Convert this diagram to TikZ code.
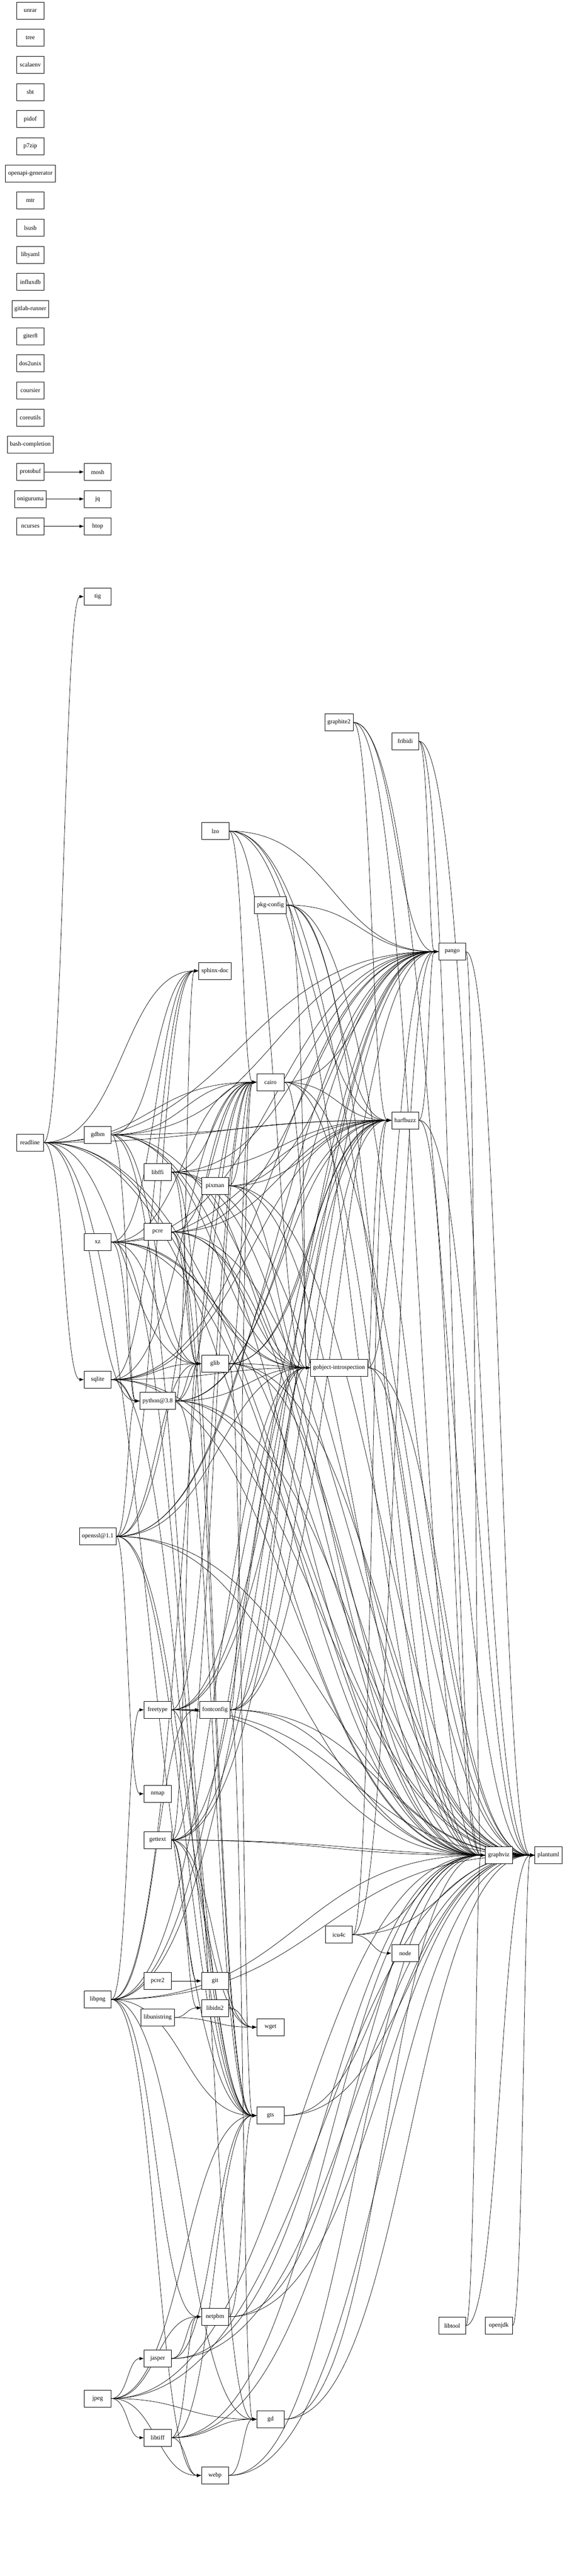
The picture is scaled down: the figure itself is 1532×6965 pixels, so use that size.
\documentclass[tikz,border=0pt]{standalone}
\usepackage{fontspec}
\setmainfont{Liberation Serif}
\usetikzlibrary{calc,arrows.meta,backgrounds}
\begin{document}
\begin{tikzpicture}[x=1pt,y=-1pt,
  box/.style={draw,fill=white,line width=1pt,minimum width=73pt,minimum height=46pt,inner xsep=7pt,font=\fontsize{16.5}{19}\selectfont},
  e/.style={line width=1pt,-{Latex[length=12pt,width=9pt]},
    to path={let \p1=(\tikztostart), \p2=(\tikztotarget) in
      (\tikztostart) .. controls ({0.5*\x1+0.5*\x2},\y1) and ({0.5*\x1+0.5*\x2},\y2) .. (\tikztotarget) \tikztonodes}}]
\useasboundingbox (0,0) rectangle (1532,6965);
% isolated list
\foreach \n/\y in {unrar/29,tree/102,scalaenv/175,sbt/249,pidof/322,p7zip/396,openapi-generator/469,mtr/542,lsusb/616,libyaml/689,influxdb/762,gitlab-runner/836,giter8/909,dos2unix/982,coursier/1056,coreutils/1129,bash-completion/1202}
  \node[box] (\n) at (82,\y) {\n};
\node[box] (protobuf) at (82,1276) {protobuf};
\node[box] (oniguruma) at (82,1349) {oniguruma};
\node[box] (ncurses) at (82,1423) {ncurses};
\node[box] (mosh) at (264,1276) {mosh};
\node[box] (jq) at (264,1349) {jq};
\node[box] (htop) at (264,1423) {htop};
% main graph nodes
\node[box] (tig) at (264,1613) {tig};
\node[box] (graphite2) at (916,1953) {graphite2};
\node[box] (fribidi) at (1095,2004) {fribidi};
\node[box] (lzo) at (582,2247) {lzo};
\node[box] (pkgc) at (731,2447) {pkg-config};
\node[box] (pango) at (1222,2573) {pango};
\node[box] (sphinx) at (581,2625) {sphinx-doc};
\node[box] (cairo) at (731,2926) {cairo};
\node[box] (harfbuzz) at (1095,3029) {harfbuzz};
\node[box] (readline) at (81,3089) {readline};
\node[box] (gdbm) at (264,3068) {gdbm};
\node[box] (libffi) at (426,3169) {libffi};
\node[box] (pixman) at (581,3206) {pixman};
\node[box] (pcre) at (426,3331) {pcre};
\node[box] (xz) at (264,3358) {xz};
\node[box] (glib) at (581,3687) {glib};
\node[box] (gi) at (916,3698) {gobject-introspection};
\node[box] (sqlite) at (264,3730) {sqlite};
\node[box] (py38) at (426,3788) {python@3.8};
\node[box] (ssl) at (264,4154) {openssl@1.1};
\node[box] (freetype) at (426,4623) {freetype};
\node[box] (fontconfig) at (581,4623) {fontconfig};
\node[box] (nmap) at (426,4850) {nmap};
\node[box] (gettext) at (426,4975) {gettext};
\node[box] (graphviz) at (1348,5016) {graphviz};
\node[box] (plantuml) at (1482,5016) {plantuml};
\node[box] (icu4c) at (916,5231) {icu4c};
\node[box] (node) at (1095,5281) {node};
\node[box] (pcre2) at (426,5356) {pcre2};
\node[box] (git) at (581,5356) {git};
\node[box] (libpng) at (264,5406) {libpng};
\node[box] (libidn2) at (581,5429) {libidn2};
\node[box] (libunistring) at (426,5455) {libunistring};
\node[box] (wget) at (731,5481) {wget};
\node[box] (gts) at (731,5720) {gts};
\node[box] (netpbm) at (581,6264) {netpbm};
\node[box] (libtool) at (1222,6288) {libtool};
\node[box] (openjdk) at (1348,6288) {openjdk};
\node[box] (jasper) at (426,6377) {jasper};
\node[box] (jpeg) at (264,6485) {jpeg};
\node[box] (gd) at (731,6541) {gd};
\node[box] (libtiff) at (426,6591) {libtiff};
\node[box] (webp) at (581,6693) {webp};
% dependency sets
\def\Rpy{gdbm,ssl,readline,sqlite,xz}
\def\Rglib{gettext,libffi,pcre,py38,gdbm,ssl,readline,sqlite,xz}
\def\Rcairo{fontconfig,freetype,libpng,lzo,pixman,glib,gettext,libffi,pcre,py38,gdbm,ssl,readline,sqlite,xz}
\def\RGI{cairo,pkgc,fontconfig,freetype,libpng,lzo,pixman,glib,gettext,libffi,pcre,py38,gdbm,ssl,readline,sqlite,xz}
\def\Rhb{gi,graphite2,icu4c,cairo,pkgc,fontconfig,freetype,libpng,lzo,pixman,glib,gettext,libffi,pcre,py38,gdbm,ssl,readline,sqlite,xz}
\def\Rpango{harfbuzz,fribidi,gi,graphite2,icu4c,cairo,pkgc,fontconfig,freetype,libpng,lzo,pixman,glib,gettext,libffi,pcre,py38,gdbm,ssl,readline,sqlite,xz}
\def\Rgts{glib,gettext,libffi,pcre,py38,gdbm,ssl,readline,sqlite,xz,netpbm,jasper,jpeg,libpng,libtiff}
\def\Rgv{pango,harfbuzz,fribidi,gi,graphite2,icu4c,cairo,pkgc,fontconfig,freetype,libpng,lzo,pixman,glib,gettext,libffi,pcre,py38,gdbm,ssl,readline,sqlite,xz,gd,gts,libtool,jpeg,libtiff,webp,netpbm,jasper}
\begin{scope}[on background layer]
\draw[e] (protobuf) to (mosh);
\draw[e] (oniguruma) to (jq);
\draw[e] (ncurses) to (htop);
\draw[e] (readline) to (tig);
\draw[e] (readline) to (sqlite);
\foreach \s in \Rpy {\draw[e] (\s) to (py38); \draw[e] (\s) to (sphinx);}
\draw[e] (py38) to (sphinx);
\foreach \s in \Rglib {\draw[e] (\s) to (glib);}
\foreach \s in \Rcairo {\draw[e] (\s) to (cairo);}
\foreach \s in \RGI {\draw[e] (\s) to (gi);}
\foreach \s in \Rhb {\draw[e] (\s) to (harfbuzz);}
\foreach \s in \Rpango {\draw[e] (\s) to (pango);}
\foreach \s in \Rgts {\draw[e] (\s) to (gts);}
\foreach \s in \Rgv {\draw[e] (\s) to (graphviz); \draw[e] (\s) to (plantuml);}
\draw[e] (graphviz) to (plantuml);
\draw[e] (openjdk) to (plantuml);
\draw[e] (libpng) to (freetype);
\draw[e] (freetype) to (fontconfig);
\draw[e] (libpng) to (fontconfig);
\foreach \s in {fontconfig,freetype,jpeg,libpng,libtiff,webp} {\draw[e] (\s) to (gd);}
\foreach \s in {jasper,jpeg,libpng,libtiff} {\draw[e] (\s) to (netpbm);}
\draw[e] (jpeg) to (jasper);
\draw[e] (jpeg) to (libtiff);
\foreach \s in {jpeg,libpng,libtiff} {\draw[e] (\s) to (webp);}
\draw[e] (ssl) to (nmap);
\draw[e] (gettext) to (git);
\draw[e] (pcre2) to (git);
\draw[e] (gettext) to (libidn2);
\draw[e] (libunistring) to (libidn2);
\foreach \s in {libidn2,libunistring,gettext,ssl} {\draw[e] (\s) to (wget);}
\draw[e] (icu4c) to (node);
\end{scope}
\end{tikzpicture}
\end{document}
